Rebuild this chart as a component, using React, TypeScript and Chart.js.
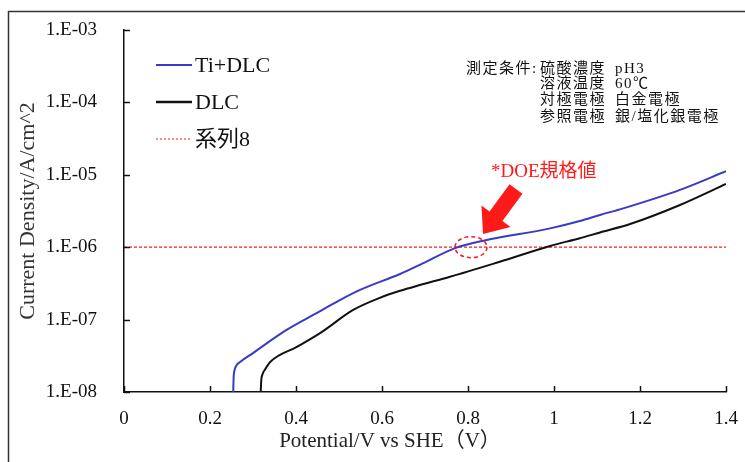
import React, { useEffect, useRef } from "react";
import { Chart, registerables } from "chart.js";

Chart.register(...registerables);

// ---- data ----
const tiDlcPotential = [0.254, 0.255, 0.257, 0.262, 0.27, 0.3, 0.378, 0.44, 0.502, 0.549, 0.642, 0.688, 0.77, 0.836, 0.991, 1.06, 1.107, 1.161, 1.293, 1.4];
const tiDlcCurrent = [1.0e-8, 1.6e-8, 2.0e-8, 2.35e-8, 2.6e-8, 3.45e-8, 7.2e-8, 1.16e-7, 1.86e-7, 2.57e-7, 4.27e-7, 5.7e-7, 9.7e-7, 1.23e-6, 1.82e-6, 2.3e-6, 2.79e-6, 3.44e-6, 6.2e-6, 1.12e-5];

const dlcPotential = [0.318, 0.319, 0.322, 0.328, 0.34, 0.402, 0.456, 0.533, 0.595, 0.642, 0.688, 0.758, 0.874, 0.991, 1.06, 1.107, 1.177, 1.293, 1.4];
const dlcCurrent = [1.0e-8, 1.4e-8, 1.75e-8, 2.05e-8, 2.6e-8, 4.2e-8, 6.5e-8, 1.36e-7, 2.0e-7, 2.5e-7, 3.0e-7, 3.9e-7, 6.3e-7, 1.04e-6, 1.33e-6, 1.6e-6, 2.09e-6, 3.83e-6, 7.46e-6];

const doePotential = [0, 1.4];
const doeCurrent = [1e-6, 1e-6];

const seriesNames = ["Ti+DLC", "DLC", "系列8"];

const xTickValues = [0, 0.2, 0.4, 0.6, 0.8, 1.0, 1.2, 1.4];
const xTickLabels = ["0", "0.2", "0.4", "0.6", "0.8", "1", "1.2", "1.4"];
const yTickValues = [1e-8, 1e-7, 1e-6, 1e-5, 1e-4, 1e-3];
const yTickLabels = ["1.E-08", "1.E-07", "1.E-06", "1.E-05", "1.E-04", "1.E-03"];

const xTitle = "Potential/V vs SHE（V）";
const yTitle = "Current Density/A/cm^2";

const conditionHead = "測定条件:";
const conditionItems = ["硫酸濃度", "溶液温度", "対極電極", "参照電極"];
const conditionValues = ["pH3", "60℃", "白金電極", "銀/塩化銀電極"];

const doeLabel = "*DOE規格値";
const doeMarkPotential = 0.807;
const doeMarkCurrent = 1e-6;

const SERIF = "'Liberation Serif', 'Noto Sans CJK JP', serif";
const BLUE = "#3a3ac4";
const BLACK = "#111111";
const RED = "#ff1a1a";

const toPoints = (xs: number[], ys: number[]) => xs.map((x, i) => ({ x, y: ys[i] }));

const decorPlugin = {
  id: "decor",
  afterDraw(chart: any) {
    const ctx: any = chart.ctx;
    const xs = chart.scales.x;
    const ys = chart.scales.y;
    const area = chart.chartArea;
    ctx.save();

    // outer frame
    ctx.strokeStyle = "#333";
    ctx.lineWidth = 1.5;
    ctx.beginPath();
    ctx.moveTo(8.5, 462);
    ctx.lineTo(8.5, 11.5);
    ctx.lineTo(745, 11.5);
    ctx.stroke();

    // inward tick marks
    ctx.strokeStyle = BLACK;
    ctx.lineWidth = 1.5;
    ctx.beginPath();
    xTickValues.forEach((v) => {
      const px = Math.round(xs.getPixelForValue(v)) + 0.5;
      ctx.moveTo(px, area.bottom);
      ctx.lineTo(px, area.bottom - 6);
    });
    yTickValues.forEach((v) => {
      const py = Math.round(ys.getPixelForValue(v)) + 0.5;
      ctx.moveTo(area.left, py);
      ctx.lineTo(area.left + 6, py);
    });
    ctx.stroke();

    // legend
    const legendX = area.left + 32;
    const legendYs = [area.top + 35, area.top + 72, area.top + 109];
    const legendColors = [BLUE, BLACK, RED];
    const legendWidths = [2, 2.5, 1];
    ctx.textAlign = "left";
    ctx.textBaseline = "middle";
    ctx.font = `22px ${SERIF}`;
    seriesNames.forEach((name, i) => {
      ctx.strokeStyle = legendColors[i];
      ctx.lineWidth = legendWidths[i];
      ctx.setLineDash(i === 2 ? [2, 2] : []);
      ctx.beginPath();
      ctx.moveTo(legendX, legendYs[i]);
      ctx.lineTo(legendX + 36, legendYs[i]);
      ctx.stroke();
      ctx.setLineDash([]);
      ctx.fillStyle = "#111";
      ctx.fillText(name, legendX + 39, legendYs[i] + 1);
    });

    // conditions block
    ctx.font = `15px ${SERIF}`;
    ctx.letterSpacing = "1.5px";
    ctx.fillStyle = "#111";
    const rowYs = [69, 84.5, 100.5, 117];
    ctx.textAlign = "left";
    ctx.fillText(conditionHead, 466, rowYs[0]);
    conditionItems.forEach((t, i) => ctx.fillText(t, 540, rowYs[i]));
    conditionValues.forEach((t, i) => ctx.fillText(t, 615, rowYs[i]));
    ctx.letterSpacing = "0px";

    // DOE label
    ctx.font = `19px ${SERIF}`;
    ctx.fillStyle = RED;
    ctx.fillText(doeLabel, 491, 172);

    // dashed ellipse around DOE crossing
    const ex = xs.getPixelForValue(doeMarkPotential);
    const ey = ys.getPixelForValue(doeMarkCurrent);
    ctx.strokeStyle = RED;
    ctx.lineWidth = 1.5;
    ctx.setLineDash([4, 3]);
    ctx.beginPath();
    ctx.ellipse(ex, ey, 16, 10.5, 0, 0, Math.PI * 2);
    ctx.stroke();
    ctx.setLineDash([]);

    // arrow
    const tip = { x: 483, y: 234 };
    const tail = { x: 516, y: 189 };
    const dx = tail.x - tip.x;
    const dy = tail.y - tip.y;
    const len = Math.hypot(dx, dy);
    const ux = dx / len, uy = dy / len;
    const nx = -uy, ny = ux;
    const headLen = 22, headHalf = 18, shaftHalf = 8;
    const bx = tip.x + ux * headLen, by = tip.y + uy * headLen;
    ctx.fillStyle = RED;
    ctx.beginPath();
    ctx.moveTo(tip.x, tip.y);
    ctx.lineTo(bx + nx * headHalf, by + ny * headHalf);
    ctx.lineTo(bx + nx * shaftHalf, by + ny * shaftHalf);
    ctx.lineTo(tail.x + nx * shaftHalf, tail.y + ny * shaftHalf);
    ctx.lineTo(tail.x - nx * shaftHalf, tail.y - ny * shaftHalf);
    ctx.lineTo(bx - nx * shaftHalf, by - ny * shaftHalf);
    ctx.lineTo(bx - nx * headHalf, by - ny * headHalf);
    ctx.closePath();
    ctx.fill();

    // x axis title
    ctx.font = `21px ${SERIF}`;
    ctx.fillStyle = "#222";
    ctx.textAlign = "center";
    ctx.fillText(xTitle, 390, 441);

    ctx.restore();
  },
};

export default function App() {
  const canvasRef = useRef<HTMLCanvasElement | null>(null);

  useEffect(() => {
    const canvas = canvasRef.current;
    if (!canvas) return;
    const chart = new Chart(canvas, {
      type: "line",
      data: {
        datasets: [
          {
            label: seriesNames[0],
            data: toPoints(tiDlcPotential, tiDlcCurrent),
            borderColor: BLUE,
            borderWidth: 2,
            pointRadius: 0,
            cubicInterpolationMode: "monotone",
          },
          {
            label: seriesNames[1],
            data: toPoints(dlcPotential, dlcCurrent),
            borderColor: BLACK,
            borderWidth: 2,
            pointRadius: 0,
            cubicInterpolationMode: "monotone",
          },
          {
            label: seriesNames[2],
            data: toPoints(doePotential, doeCurrent),
            borderColor: RED,
            borderWidth: 1.2,
            borderDash: [3, 2],
            pointRadius: 0,
          },
        ],
      },
      options: {
        responsive: false,
        animation: false,
        layout: { padding: { top: 30, right: 19, left: 0, bottom: 0 } },
        plugins: {
          legend: { display: false },
          tooltip: { enabled: false },
        },
        scales: {
          x: {
            type: "linear",
            min: 0,
            max: 1.4,
            grid: { display: false, drawTicks: false },
            border: { display: true, color: BLACK, width: 1.5 },
            afterBuildTicks: (scale: any) => {
              scale.ticks = xTickValues.map((v) => ({ value: v }));
            },
            afterFit: (scale: any) => {
              scale.height = 70;
              scale.paddingLeft = 0;
              scale.paddingRight = 0;
            },
            ticks: {
              autoSkip: false,
              maxRotation: 0,
              padding: 16,
              color: "#111",
              font: { family: SERIF, size: 19 },
              callback: (_v: any, i: number) => xTickLabels[i],
            },
          },
          y: {
            type: "logarithmic",
            min: 1e-8,
            max: 1e-3,
            grid: { display: false, drawTicks: false },
            border: { display: true, color: BLACK, width: 1.5 },
            afterBuildTicks: (scale: any) => {
              scale.ticks = yTickValues.map((v) => ({ value: v }));
            },
            afterFit: (scale: any) => {
              scale.width = 124;
              scale.paddingTop = 0;
              scale.paddingBottom = 0;
            },
            ticks: {
              autoSkip: false,
              padding: 27,
              color: "#111",
              font: { family: SERIF, size: 19 },
              callback: (_v: any, i: number) => yTickLabels[i],
            },
            title: {
              display: true,
              text: yTitle,
              color: "#333",
              font: { family: SERIF, size: 22 },
              padding: { top: 15, bottom: 0 },
            },
          },
        },
      },
      plugins: [decorPlugin],
    });
    return () => chart.destroy();
  }, []);

  return (
    <div style={{ position: "fixed", left: 0, top: 0, width: 745, height: 462, background: "#fff" }}>
      <canvas ref={canvasRef} width={745} height={462} style={{ display: "block" }} />
    </div>
  );
}
